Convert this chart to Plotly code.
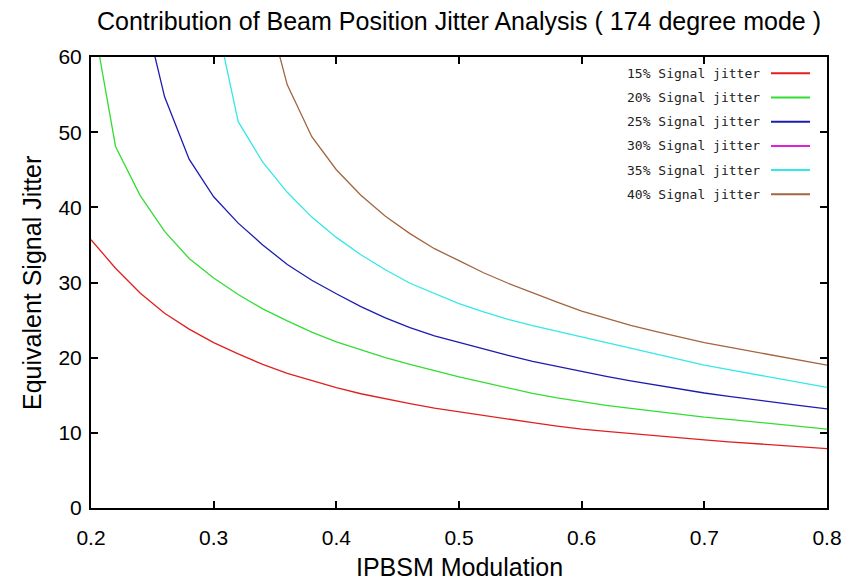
import plotly.graph_objects as go

# IPBSM modulation grid (step 0.02)
modulation = [0.20, 0.22, 0.24, 0.26, 0.28, 0.30, 0.32, 0.34, 0.36, 0.38,
              0.40, 0.42, 0.44, 0.46, 0.48, 0.50, 0.52, 0.54, 0.56, 0.58,
              0.60, 0.62, 0.64, 0.66, 0.68, 0.70, 0.72, 0.74, 0.76, 0.78, 0.80]

# Equivalent signal jitter for each signal-jitter level
jitter_15 = [35.7, 31.9, 28.6, 25.9, 23.8, 22.0, 20.5, 19.1, 17.9, 16.9,
             16.0, 15.2, 14.5, 13.9, 13.3, 12.8, 12.3, 11.8, 11.35, 10.9,
             10.5, 10.2, 9.9, 9.6, 9.3, 9.05, 8.8, 8.55, 8.3, 8.1, 7.9]
jitter_20 = [66.5, 48.1, 41.6, 36.8, 33.2, 30.6, 28.4, 26.5, 24.9, 23.4,
             22.1, 21.0, 20.0, 19.1, 18.25, 17.45, 16.7, 15.95, 15.25, 14.65,
             14.1, 13.65, 13.25, 12.85, 12.45, 12.1, 11.8, 11.5, 11.2, 10.85, 10.5]
jitter_25 = [None, None, 68.3, 54.7, 46.4, 41.4, 37.9, 35.0, 32.4, 30.3,
             28.5, 26.8, 25.3, 24.0, 22.9, 22.0, 21.1, 20.3, 19.5, 18.8,
             18.1, 17.5, 16.9, 16.35, 15.8, 15.3, 14.85, 14.4, 14.0, 13.6, 13.2]
jitter_30 = []
jitter_35 = [None, None, None, None, None, 66.6, 51.4, 46.0, 42.0, 38.7,
             36.0, 33.7, 31.7, 29.9, 28.5, 27.2, 26.1, 25.1, 24.25, 23.5,
             22.75, 22.0, 21.2, 20.45, 19.7, 19.0, 18.4, 17.8, 17.2, 16.6, 16.05]
jitter_40 = [None, None, None, None, None, None, None, 68.6, 56.3, 49.4,
             45.0, 41.6, 38.8, 36.5, 34.5, 32.9, 31.3, 29.9, 28.6, 27.4,
             26.2, 25.2, 24.3, 23.5, 22.7, 22.0, 21.4, 20.8, 20.2, 19.6, 19.0]

series_names = ["15% Signal jitter", "20% Signal jitter", "25% Signal jitter",
                "30% Signal jitter", "35% Signal jitter", "40% Signal jitter"]
series_values = [jitter_15, jitter_20, jitter_25, jitter_30, jitter_35, jitter_40]
series_colors = ["#e02020", "#33dd33", "#1c1cb0", "#dd22dd", "#33e8e8", "#a2653f"]

x_ticks = [0.2, 0.3, 0.4, 0.5, 0.6, 0.7, 0.8]
y_ticks = [0, 10, 20, 30, 40, 50, 60]

fig = go.Figure()
for name, vals, color in zip(series_names, series_values, series_colors):
    fig.add_trace(go.Scatter(
        x=modulation[:len(vals)], y=vals, mode="lines", name=name,
        line=dict(color=color, width=1.3), connectgaps=False,
        showlegend=False,
    ))

# gnuplot-style key: right-aligned text followed by a line sample
key_top = 73.3      # px from top of figure, first row
key_step = 24.2     # px between rows
plot_top, plot_bottom, plot_left, plot_right = 57, 508, 91, 827
ph = plot_bottom - plot_top
pw = plot_right - plot_left
for i, (name, color) in enumerate(zip(series_names, series_colors)):
    yp = (plot_bottom - (key_top + i * key_step)) / ph
    fig.add_annotation(
        x=(761.5 - plot_left) / pw, y=yp, xref="paper", yref="paper",
        text=name, showarrow=False, xanchor="right", yanchor="middle",
        font=dict(family="DejaVu Sans Mono", size=13, color="#222"),
    )
    fig.add_shape(
        type="line", xref="paper", yref="paper",
        x0=(771 - plot_left) / pw, x1=(810 - plot_left) / pw, y0=yp, y1=yp,
        line=dict(color=color, width=2),
    )

title_font = dict(family="Liberation Sans", size=25, color="black")

# axis titles placed in the fixed margins
fig.add_annotation(
    x=0.5, y=-(567 - plot_bottom) / ph, xref="paper", yref="paper",
    text="IPBSM Modulation", showarrow=False, xanchor="center", yanchor="middle",
    font=title_font,
)
fig.add_annotation(
    x=-(plot_left - 32) / pw, y=(plot_bottom - 283) / ph, xref="paper", yref="paper",
    text="Equivalent Signal Jitter", showarrow=False, textangle=-90,
    xanchor="center", yanchor="middle", font=title_font,
)

axis_common = dict(
    showline=True, linecolor="black", linewidth=2, mirror="ticks",
    ticks="inside", ticklen=7, tickwidth=2, tickcolor="black",
    showgrid=False, zeroline=False, automargin=False,
    tickfont=dict(family="Liberation Sans", size=21, color="black"),
)

fig.update_layout(
    width=856, height=581,
    margin=dict(l=91, r=29, t=57, b=73),
    paper_bgcolor="white", plot_bgcolor="white",
    title=dict(
        text="Contribution of Beam Position Jitter Analysis ( 174 degree mode )",
        x=0.5, xref="paper", xanchor="center", y=1 - 21 / 581, yanchor="middle",
        font=title_font,
    ),
    xaxis=dict(
        range=[0.2, 0.8], tickvals=x_ticks, ticktext=[f"{v:.1f}" for v in x_ticks],
        ticklabelstandoff=10,
        **axis_common,
    ),
    yaxis=dict(
        range=[0, 60], tickvals=y_ticks, ticktext=[str(v) for v in y_ticks],
        ticklabelstandoff=3,
        **axis_common,
    ),
)

fig.write_html("out.html")
